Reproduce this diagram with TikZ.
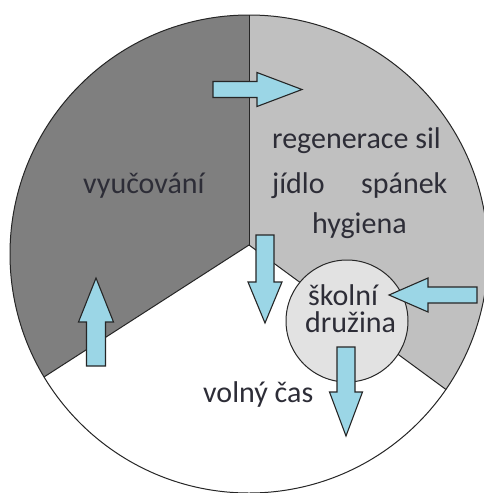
\documentclass[tikz,border=0pt]{standalone}
\usepackage{fontspec}
\setmainfont{Carlito}
\definecolor{darksec}{RGB}{127,127,127}
\definecolor{lightsec}{RGB}{192,192,192}
\definecolor{innerc}{RGB}{226,226,226}
\definecolor{arrowblue}{RGB}{155,214,230}
\definecolor{txt}{RGB}{45,45,55}
\tikzset{
  lbl/.style={font=\fontsize{30}{36}\selectfont, text=txt, inner sep=0pt, anchor=base west},
  blockarrow/.style={fill=arrowblue, draw=black!85, line width=1.1pt, line join=miter},
  rim/.style={draw=black!85, line width=1pt},
  spoke/.style={draw=black!85, line width=1pt},
}
\begin{document}
\begin{tikzpicture}[x=1pt,y=-1pt]
\useasboundingbox (0,0) rectangle (484,493);
\fill[white] (0,0) rectangle (484,493);
\clip (0,0) rectangle (484,493);
% named points
\coordinate (C) at (249,254);
\coordinate (O) at (249,245);
\coordinate (T) at (249,15);
\coordinate (L) at (44,377);
\coordinate (R) at (446,389.5);
% big circle sectors
\fill[white] (C) circle[radius=239pt];
\begin{scope}
  \clip (C) circle[radius=239pt];
  \fill[darksec] (O) -- (249,-300) -- (-300,-300) -- (-300,598.3) -- cycle;
  \fill[lightsec] (O) -- (249,-300) -- (800,-300) -- (800,649.2) -- cycle;
\end{scope}
\draw[spoke] (O) -- (T);
\draw[spoke] (O) -- (L);
\draw[spoke] (O) -- (R);
\draw[rim] (C) circle[radius=239pt];
% small circle
\node[circle, minimum size=122pt, inner sep=0pt, fill=innerc, rim] (SD) at (347,321) {};
% block arrows
\draw[blockarrow] (213,81.5) -- (257,81.5) -- (257,72.5) -- (302,89.5) -- (257,106.5) -- (257,97.5) -- (213,97.5) -- cycle;
\draw[blockarrow] (256,235) -- (274,235) -- (274,282) -- (282,282) -- (265,323) -- (248,282) -- (256,282) -- cycle;
\draw[blockarrow] (477,287) -- (428,287) -- (428,278) -- (389,295) -- (428,312) -- (428,303) -- (477,303) -- cycle;
\draw[blockarrow] (86.5,366) -- (86.5,322) -- (78.5,322) -- (96,278) -- (113.5,322) -- (105.5,322) -- (105.5,366) -- cycle;
\draw[blockarrow] (337,347) -- (355,347) -- (355,392) -- (362.5,392) -- (346,436) -- (329.5,392) -- (337,392) -- cycle;
% labels
\node[lbl] (vyuc) at (83,193) {vyučování};
\node[lbl] (reg) at (272,148) {regenerace sil};
\node[lbl] (jidlo) at (272,193) {jídlo};
\node[lbl] (spanek) at (361,193) {spánek};
\node[lbl] (hyg) at (312,233) {hygiena};
\node[lbl] (skol) at (308,305) {školní};
\node[lbl] (druz) at (305,332) {družina};
\node[lbl] (volny) at (203,402) {volný čas};
\end{tikzpicture}
\end{document}
